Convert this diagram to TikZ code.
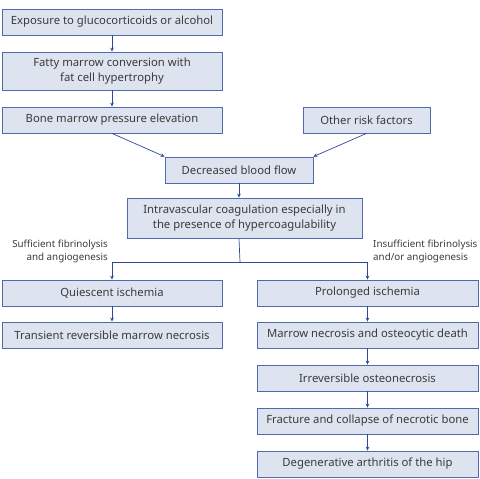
\documentclass[tikz,border=0pt]{standalone}
\usepackage{fontspec}
\setmainfont{Noto Sans}
\usepackage{xcolor}
\usepackage{tikz}
\usetikzlibrary{arrows.meta}
\definecolor{boxfill}{HTML}{DDE4F0}
\definecolor{boxline}{HTML}{4F6BAE}
\definecolor{arrowblue}{HTML}{2C4A9A}
\definecolor{txtgrey}{HTML}{3A3A3A}
\tikzset{>={Stealth[length=4pt,width=3.6pt]}}
\tikzset{
  stagebox/.style={draw=boxline, fill=boxfill, line width=0.8pt, text=txtgrey, minimum height=26pt, inner sep=0pt, align=center, font=\fontsize{11.3}{15.5}\selectfont},
  sidenote/.style={text=txtgrey, inner sep=0pt, font=\fontsize{9.8}{13}\selectfont},
  flowline/.style={draw=arrowblue, line width=0.7pt}
}

\begin{document}
\begin{tikzpicture}[x=1pt,y=-1pt]
\useasboundingbox (0,0) rectangle (480,479);

% left trunk
\node[stagebox, minimum width=220pt] (expo) at (112,22) {Exposure to glucocorticoids or alcohol};
\node[stagebox, minimum width=220pt, minimum height=38pt] (fatty) at (112,71) {Fatty marrow conversion with\\fat cell hypertrophy};
\node[stagebox, minimum width=220pt] (press) at (112,120) {Bone marrow pressure elevation};
\node[stagebox, minimum width=127pt] (other) at (366.5,120) {Other risk factors};
\node[stagebox, minimum width=148pt] (flow) at (239,170) {Decreased blood flow};
\node[stagebox, minimum width=235pt, minimum height=40pt] (coag) at (244.5,218) {Intravascular coagulation especially in\\the presence of hypercoagulability};

% branches
\node[stagebox, minimum width=220pt] (quies) at (112,293) {Quiescent ischemia};
\node[stagebox, minimum width=220pt] (trans) at (112,335) {Transient reversible marrow necrosis};
\node[stagebox, minimum width=221pt] (prolong) at (367.5,293) {Prolonged ischemia};
\node[stagebox, minimum width=221pt] (death) at (367.5,335) {Marrow necrosis and osteocytic death};
\node[stagebox, minimum width=221pt] (irrev) at (367.5,378) {Irreversible osteonecrosis};
\node[stagebox, minimum width=221pt] (fract) at (367.5,421) {Fracture and collapse of necrotic bone};
\node[stagebox, minimum width=221pt] (arthr) at (367.5,464) {Degenerative arthritis of the hip};

\node[sidenote, anchor=east, align=right] (suff) at (108,251) {Sufficient fibrinolysis\\and angiogenesis};
\node[sidenote, anchor=west, align=left] (insuff) at (373,251) {Insufficient fibrinolysis\\and/or angiogenesis};

\coordinate (split) at (240,262);

\draw[flowline,->] (expo) -- (fatty);
\draw[flowline,->] (fatty) -- (press);
\draw[flowline,->] (press.south) -- (flow.north west);
\draw[flowline,->] (other.south) -- (flow.north east);
\draw[flowline,->] (flow.south) -- (flow.south |- coag.north);
\draw[flowline] (flow.south |- coag.south) -- (split);
\draw[flowline,->] (split) -| (quies.north);
\draw[flowline,->] (split) -| (prolong.north);
\draw[flowline,->] (quies) -- (trans);
\draw[flowline,->] (prolong) -- (death);
\draw[flowline,->] (death) -- (irrev);
\draw[flowline,->] (irrev) -- (fract);
\draw[flowline,->] (fract) -- (arthr);
\end{tikzpicture}
\end{document}
